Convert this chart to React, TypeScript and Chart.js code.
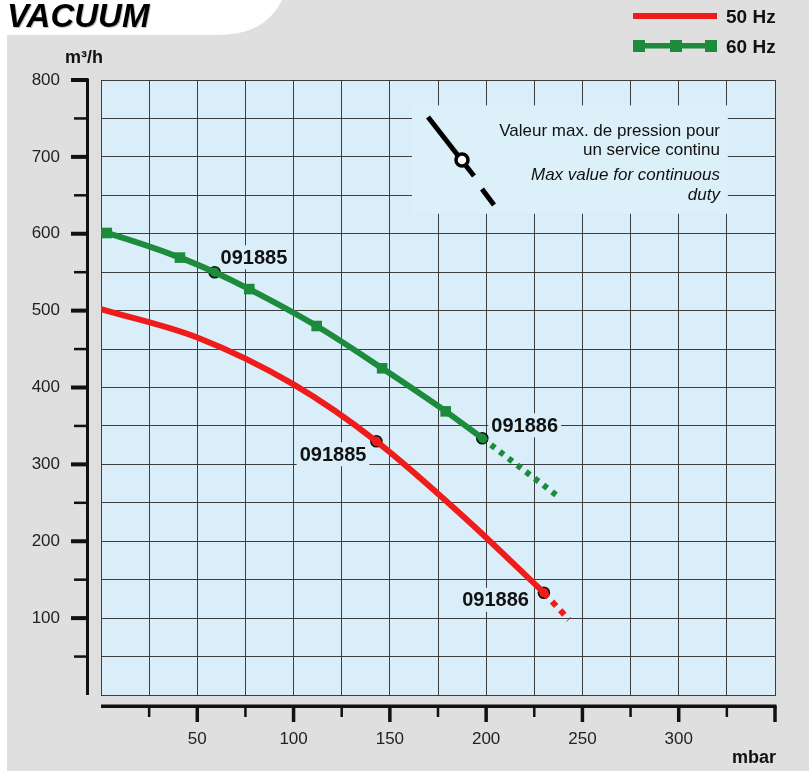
import React, { useEffect, useRef } from "react";
import { Chart, registerables } from "chart.js";

Chart.register(...registerables);

const FONT = '"Liberation Sans", Arial, Helvetica, sans-serif';

// ---- data ----
const xTickValues = [25, 50, 75, 100, 125, 150, 175, 200, 225, 250, 275, 300, 325, 350];
const xTickLabels = [50, 100, 150, 200, 250, 300];
const yTickLabels = [100, 200, 300, 400, 500, 600, 700, 800];

const red50X = [0, 50, 100, 143, 190, 230];
const red50Y = [502, 465, 404, 330, 228, 133];
const red50DotX = [230, 243];
const red50DotY = [133, 98];

const green60X = [0, 3, 41, 59, 77, 112, 146, 179, 198];
const green60Y = [603, 601, 569, 550, 528, 480, 425, 369, 334];
const green60Marker = [0, 1, 1, 0, 1, 1, 1, 1, 0];
const green60DotX = [198, 238];
const green60DotY = [334, 257];

const pumpNames = ["091885", "091886", "091885", "091886"];
const pumpX = [143, 230, 59, 198];
const pumpY = [330, 133, 550, 334];
const pumpSeries = ["50 Hz", "50 Hz", "60 Hz", "60 Hz"];

const legendLabels = ["50 Hz", "60 Hz"];
const noteFr = ["Valeur max. de pression pour", "un service continu"];
const noteEn = ["Max value for continuous", "duty"];

const RED = "#f01c1c";
const GREEN = "#1c8c3c";
const PLOT_BG = "#d9eef9";
const PANEL = "#dfdfdf";
const GRID = "#3d3d3d";

const pts = (xs: number[], ys: number[]) => xs.map((x, i) => ({ x, y: ys[i] }));

// label offsets (px) relative to each pump marker
const labelOffsets = [
  { dx: -10, dy: 13, align: "right" },
  { dx: -15, dy: 7, align: "right" },
  { dx: 6, dy: -15, align: "left" },
  { dx: 9, dy: -13, align: "left" },
];

const decorPlugin = {
  id: "decor",
  beforeDraw(chart: any) {
    const { ctx, chartArea: ca } = chart;
    ctx.save();
    ctx.fillStyle = "#ffffff";
    ctx.fillRect(0, 0, 809, 771);
    ctx.fillStyle = PANEL;
    ctx.fillRect(7, 0, 802, 771);
    // white title tab
    ctx.fillStyle = "#ffffff";
    ctx.beginPath();
    ctx.moveTo(0, 0);
    ctx.lineTo(282, 0);
    ctx.bezierCurveTo(270, 24, 250, 35, 215, 35);
    ctx.lineTo(0, 35);
    ctx.closePath();
    ctx.fill();
    // title
    ctx.font = `italic bold 33px ${FONT}`;
    ctx.textAlign = "left";
    ctx.textBaseline = "alphabetic";
    ctx.fillStyle = "rgba(0,0,0,0.25)";
    ctx.fillText("VACUUM", 8, 28);
    ctx.fillStyle = "#000";
    ctx.fillText("VACUUM", 7, 27);
    // plot background
    ctx.fillStyle = PLOT_BG;
    ctx.fillRect(ca.left, ca.top, ca.right - ca.left, ca.bottom - ca.top);
    ctx.restore();
  },
  beforeDatasetsDraw(chart: any) {
    const { ctx } = chart;
    const xs = chart.scales.x;
    const ys = chart.scales.y;
    ctx.save();
    // note box
    const bx0 = xs.getPixelForValue(161.5);
    const bx1 = xs.getPixelForValue(325.5);
    const by0 = ys.getPixelForValue(767);
    const by1 = ys.getPixelForValue(626);
    ctx.fillStyle = "#dcf0fa";
    ctx.fillRect(bx0, by0, bx1 - bx0, by1 - by0);
    // symbol
    ctx.strokeStyle = "#000";
    ctx.lineWidth = 5;
    ctx.lineCap = "butt";
    ctx.beginPath();
    ctx.moveTo(428, 117);
    ctx.lineTo(474, 176);
    ctx.stroke();
    ctx.beginPath();
    ctx.moveTo(482, 189);
    ctx.lineTo(494, 205);
    ctx.stroke();
    ctx.beginPath();
    ctx.arc(462, 160, 6, 0, Math.PI * 2);
    ctx.fillStyle = "#fff";
    ctx.fill();
    ctx.lineWidth = 3.5;
    ctx.stroke();
    // note text
    ctx.fillStyle = "#111";
    ctx.textAlign = "right";
    ctx.textBaseline = "middle";
    ctx.font = `17px ${FONT}`;
    ctx.fillText(noteFr[0], 720, 131);
    ctx.fillText(noteFr[1], 720, 150);
    ctx.font = `italic 17px ${FONT}`;
    ctx.fillText(noteEn[0], 720, 175);
    ctx.fillText(noteEn[1], 720, 195);
    // pump labels
    ctx.font = `bold 20px ${FONT}`;
    pumpNames.forEach((name, i) => {
      const px = xs.getPixelForValue(pumpX[i]) + labelOffsets[i].dx;
      const py = ys.getPixelForValue(pumpY[i]) + labelOffsets[i].dy;
      const w = ctx.measureText(name).width;
      const left = labelOffsets[i].align === "right" ? px - w : px;
      ctx.fillStyle = PLOT_BG;
      ctx.fillRect(left - 3, py - 12, w + 6, 24);
      ctx.fillStyle = "#111";
      ctx.textAlign = labelOffsets[i].align;
      ctx.fillText(name, px, py + 1);
    });
    ctx.restore();
  },
  afterDraw(chart: any) {
    const { ctx } = chart;
    const xs = chart.scales.x;
    const ys = chart.scales.y;
    ctx.save();
    ctx.fillStyle = "#111";
    // y axis spine + ticks
    ctx.fillRect(86, ys.getPixelForValue(800) - 1.5, 3, ys.bottom - ys.top + 1.5);
    for (let v = 50; v <= 800; v += 50) {
      const py = ys.getPixelForValue(v);
      if (yTickLabels.includes(v)) ctx.fillRect(71, py - 2, 17, 4);
      else ctx.fillRect(74, py - 1.25, 14, 2.5);
    }
    // x axis spine + ticks
    ctx.fillRect(xs.left, 704.5, xs.right - xs.left + 1.5, 3.5);
    xTickValues.forEach((v) => {
      const px = xs.getPixelForValue(v);
      if (v % 50 === 0) ctx.fillRect(px - 1.75, 706, 3.5, 16);
      else ctx.fillRect(px - 1.25, 706, 2.5, 11);
    });
    // axis titles
    ctx.font = `bold 18px ${FONT}`;
    ctx.textBaseline = "alphabetic";
    ctx.textAlign = "left";
    ctx.fillText("m³/h", 65, 63);
    ctx.textAlign = "right";
    ctx.fillText("mbar", 776, 763);
    // legend
    ctx.fillStyle = RED;
    ctx.fillRect(633, 13, 84, 6);
    ctx.fillStyle = GREEN;
    ctx.fillRect(633, 43, 84, 5.5);
    [633, 670, 705].forEach((lx) => ctx.fillRect(lx, 40, 12, 12));
    ctx.fillStyle = "#111";
    ctx.font = `bold 19px ${FONT}`;
    ctx.textAlign = "left";
    ctx.textBaseline = "middle";
    ctx.fillText(legendLabels[0], 726, 18);
    ctx.fillText(legendLabels[1], 726, 48);
    ctx.restore();
  },
};

export default function App() {
  const ref = useRef<HTMLCanvasElement | null>(null);
  useEffect(() => {
    const canvas = ref.current;
    if (!canvas) return;
    const chart = new Chart(canvas, {
      type: "line",
      data: {
        datasets: [
          {
            label: "50 Hz",
            data: pts(red50X, red50Y),
            borderColor: RED,
            borderWidth: 6,
            pointRadius: 0,
            cubicInterpolationMode: "monotone",
            borderCapStyle: "round",
          },
          {
            label: "50 Hz dotted",
            data: pts(red50DotX, red50DotY),
            borderColor: RED,
            borderWidth: 6,
            borderDash: [6, 6],
            pointRadius: 0,
          },
          {
            label: "60 Hz",
            data: pts(green60X, green60Y),
            borderColor: GREEN,
            backgroundColor: GREEN,
            borderWidth: 6,
            pointStyle: "rect",
            pointRadius: green60Marker.map((m) => (m ? 7.5 : 0)),
            pointBorderWidth: 0,
            cubicInterpolationMode: "monotone",
          },
          {
            label: "60 Hz dotted",
            data: pts(green60DotX, green60DotY),
            borderColor: GREEN,
            borderWidth: 6,
            borderDash: [5, 6],
            pointRadius: 0,
          },
          {
            label: "pumps",
            data: pts(pumpX, pumpY),
            showLine: false,
            pointStyle: "circle",
            pointRadius: 5.5,
            pointBorderWidth: 1.6,
            pointBorderColor: "#111",
            pointBackgroundColor: pumpSeries.map((s) => (s === "50 Hz" ? RED : GREEN)),
          },
        ],
      },
      options: {
        responsive: false,
        animation: false,
        events: [],
        layout: { padding: { left: 0, top: 80, right: 32, bottom: 0 } },
        plugins: { legend: { display: false }, tooltip: { enabled: false } },
        scales: {
          x: {
            type: "linear",
            min: 0,
            max: 350,
            afterFit: (s: any) => {
              s.height = 76;
            },
            ticks: {
              stepSize: 25,
              autoSkip: false,
              maxRotation: 0,
              padding: 34,
              color: "#222",
              font: { family: FONT, size: 17 },
              callback: (v: any) => (xTickLabels.includes(Number(v)) ? String(v) : ""),
            },
            grid: { color: GRID, lineWidth: 1, drawTicks: false },
            border: { display: true, color: GRID, width: 1 },
          },
          y: {
            type: "linear",
            min: 0,
            max: 800,
            afterFit: (s: any) => {
              s.width = 101;
            },
            ticks: {
              stepSize: 50,
              autoSkip: false,
              padding: 41,
              color: "#222",
              font: { family: FONT, size: 17 },
              callback: (v: any) => (yTickLabels.includes(Number(v)) ? String(v) : ""),
            },
            grid: { color: GRID, lineWidth: 1, drawTicks: false },
            border: { display: true, color: GRID, width: 1 },
          },
        },
      },
      plugins: [decorPlugin],
    } as any);
    return () => chart.destroy();
  }, []);
  return (
    <div style={{ position: "absolute", left: 0, top: 0, width: 809, height: 771 }}>
      <canvas ref={ref} width={809} height={771} style={{ display: "block", width: 809, height: 771 }} />
    </div>
  );
}
